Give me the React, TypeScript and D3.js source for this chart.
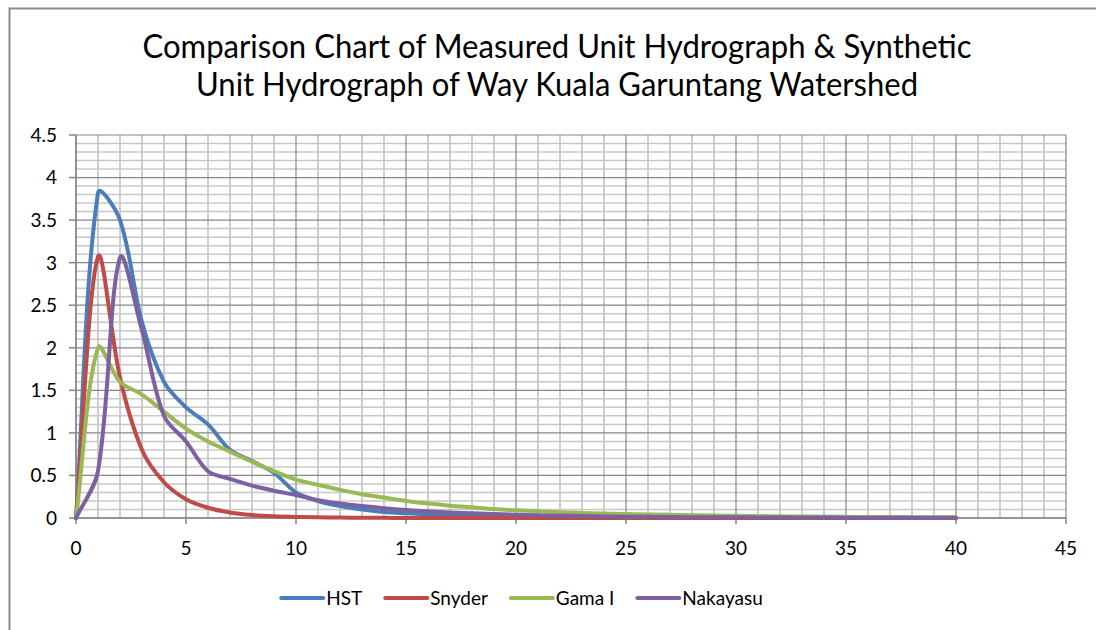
import React from 'react';
import * as d3 from 'd3';

// ---- Data ----
const hours = [0, 1, 2, 3, 4, 5, 6, 7, 8, 9, 10, 11, 12, 13, 14, 15, 16, 17, 18, 19, 20, 21, 22, 23, 24, 25, 26, 27, 28, 29, 30, 31, 32, 33, 34, 35, 36, 37, 38, 39, 40];

const hst = [0, 3.82, 3.5, 2.3, 1.6, 1.3, 1.1, 0.8, 0.67, 0.53, 0.3, 0.2, 0.14, 0.1, 0.07, 0.055, 0.045, 0.035, 0.028, 0.022, 0.018, 0.015, 0.012, 0.01, 0.008, 0.007, 0.006, 0.005, 0.004, 0.003, 0.003, 0.002, 0.002, 0.002, 0.001, 0.001, 0.001, 0.001, 0.001, 0.001, 0];
const snyder = [0, 3.07, 1.65, 0.8, 0.42, 0.22, 0.12, 0.065, 0.035, 0.02, 0.012, 0.008, 0.005, 0.003, 0.002, 0.001, 0.001, 0, 0, 0, 0, 0, 0, 0, 0, 0, 0, 0, 0, 0, 0, 0, 0, 0, 0, 0, 0, 0, 0, 0, 0];
const gama = [0, 2.0, 1.6, 1.45, 1.25, 1.05, 0.9, 0.78, 0.66, 0.55, 0.45, 0.39, 0.33, 0.28, 0.24, 0.2, 0.17, 0.145, 0.125, 0.105, 0.09, 0.078, 0.068, 0.06, 0.053, 0.047, 0.042, 0.037, 0.033, 0.029, 0.026, 0.023, 0.02, 0.018, 0.016, 0.014, 0.012, 0.011, 0.01, 0.009, 0.008];
const nakayasu = [0, 0.55, 3.06, 2.2, 1.2, 0.9, 0.55, 0.46, 0.38, 0.32, 0.27, 0.21, 0.17, 0.14, 0.115, 0.095, 0.08, 0.066, 0.055, 0.046, 0.038, 0.032, 0.027, 0.023, 0.019, 0.016, 0.014, 0.012, 0.01, 0.009, 0.008, 0.007, 0.006, 0.005, 0.005, 0.004, 0.004, 0.003, 0.003, 0.003, 0.002];

const seriesNames = ['HST', 'Snyder', 'Gama I', 'Nakayasu'];
const seriesValues = [hst, snyder, gama, nakayasu];
const seriesColors = ['#4A7EBB', '#BE4B48', '#98B954', '#7D60A0'];

const xTicks = [0, 5, 10, 15, 20, 25, 30, 35, 40, 45];
const yTicks = [0, 0.5, 1, 1.5, 2, 2.5, 3, 3.5, 4, 4.5];
const titleLines = [
  'Comparison Chart of Measured Unit Hydrograph & Synthetic',
  'Unit Hydrograph of Way Kuala Garuntang Watershed',
];

const W = 1096;
const H = 630;
const FONT = 'Lato, "Open Sans", sans-serif';

// Spreadsheet-style smoothing: Bezier segments whose control points follow the
// neighbouring chord, weighted by the adjacent segment lengths.
function ExcelSmooth(this: any, context: any) {
  this._context = context;
}
ExcelSmooth.prototype = {
  areaStart() {
    this._line = 0;
  },
  areaEnd() {
    this._line = NaN;
  },
  lineStart() {
    this._pts = [];
  },
  point(x: number, y: number) {
    this._pts.push([+x, +y]);
  },
  lineEnd() {
    const p = this._pts as [number, number][];
    const n = p.length;
    const ctx = this._context;
    if (!n) return;
    ctx.moveTo(p[0][0], p[0][1]);
    if (n === 1) return;
    const dist = (a: [number, number], b: [number, number]) => Math.hypot(b[0] - a[0], b[1] - a[1]);
    const tangent = (i: number) => {
      const prev = p[Math.max(0, i - 1)];
      const next = p[Math.min(n - 1, i + 1)];
      const dPrev = i > 0 ? dist(p[i - 1], p[i]) : 0;
      const dNext = i < n - 1 ? dist(p[i], p[i + 1]) : 0;
      const sum = dPrev + dNext || 1;
      return { dx: next[0] - prev[0], dy: next[1] - prev[1], wPrev: dPrev / sum, wNext: dNext / sum };
    };
    for (let i = 0; i < n - 1; i++) {
      const a = tangent(i);
      const b = tangent(i + 1);
      const k = 1 / 3;
      const c1x = p[i][0] + a.dx * k * a.wNext;
      const c1y = p[i][1] + a.dy * k * a.wNext;
      const c2x = p[i + 1][0] - b.dx * k * b.wPrev;
      const c2y = p[i + 1][1] - b.dy * k * b.wPrev;
      ctx.bezierCurveTo(c1x, c1y, c2x, c2y, p[i + 1][0], p[i + 1][1]);
    }
  },
};
const curveExcel = (context: any) => new (ExcelSmooth as any)(context);

function measure(text: string, size: number): number {
  const c = document.createElement('canvas').getContext('2d');
  if (!c) return text.length * size * 0.5;
  c.font = `${size}px Lato`;
  return c.measureText(text).width;
}

export default function App() {
  const x = d3.scaleLinear().domain([0, 45]).range([76, 1066]);
  const y = d3.scaleLinear().domain([0, 4.5]).range([518, 135]);

  const minorX = d3.range(0, 46, 1).filter((v) => v % 5 !== 0);
  const minorY = d3.range(0, 46, 1).filter((v) => v % 5 !== 0).map((v) => v / 10);

  const line = d3
    .line<number>()
    .x((_, i) => x(hours[i]))
    .y((d) => y(d))
    .curve(curveExcel as any);

  const legendFont = 19;
  const lineLen = 42;
  const gapText = 3;
  const itemGap = 23;
  let cursor = 0;
  const legendItems = seriesNames.map((name, i) => {
    const tw = measure(name, legendFont);
    const item = { name, color: seriesColors[i], x: cursor, tw };
    cursor += lineLen + gapText + tw + itemGap;
    return item;
  });
  const legendTotal = cursor - itemGap;
  const legendStart = 522 - legendTotal / 2;
  const legendY = 598;

  return (
    <div style={{ position: 'absolute', left: 0, top: 0 }}>
      <svg width={W} height={H} style={{ display: 'block', background: '#fff' }}>
        <rect x={0} y={0} width={W} height={H} fill="#fff" />
        {/* chart frame */}
        <rect x={9.5} y={8.5} width={W + 20} height={H + 20} fill="none" stroke="#8a8a8a" strokeWidth={2} />

        {/* title */}
        {titleLines.map((t, i) => (
          <text
            key={t}
            x={557}
            y={58 + i * 38}
            textAnchor="middle"
            fontFamily={FONT}
            fontSize={33}
            fill="#000"
            textLength={i === 0 ? 829 : 722}
            lengthAdjust="spacingAndGlyphs"
          >
            {t}
          </text>
        ))}

        {/* minor gridlines */}
        {minorX.map((v) => (
          <line key={'mx' + v} x1={x(v)} x2={x(v)} y1={y(0)} y2={y(4.5)} stroke="#bcbcbc" strokeWidth={1.5} />
        ))}
        {minorY.map((v) => (
          <line key={'my' + v} x1={x(0)} x2={x(45)} y1={y(v)} y2={y(v)} stroke="#c8c8c8" strokeWidth={1.5} />
        ))}
        {/* major gridlines */}
        {xTicks.map((v) => (
          <line key={'Mx' + v} x1={x(v)} x2={x(v)} y1={y(0)} y2={y(4.5)} stroke="#868686" strokeWidth={1.2} />
        ))}
        {yTicks.map((v) => (
          <line key={'My' + v} x1={x(0)} x2={x(45)} y1={y(v)} y2={y(v)} stroke="#868686" strokeWidth={1.2} />
        ))}

        {/* axes */}
        <line x1={x(0)} x2={x(0)} y1={y(0)} y2={y(4.5)} stroke="#868686" strokeWidth={1.5} />
        <line x1={x(0)} x2={x(45)} y1={y(0)} y2={y(0)} stroke="#868686" strokeWidth={1.5} />
        {yTicks.map((v) => (
          <g key={'yt' + v}>
            <line x1={x(0) - 7} x2={x(0)} y1={y(v)} y2={y(v)} stroke="#868686" strokeWidth={1.5} />
            <text x={57} y={y(v)} dy="0.36em" textAnchor="end" fontFamily={FONT} fontSize={19} fill="#000">
              {String(v)}
            </text>
          </g>
        ))}
        {xTicks.map((v) => (
          <g key={'xt' + v}>
            <line x1={x(v)} x2={x(v)} y1={y(0)} y2={y(0) + 6} stroke="#868686" strokeWidth={1.5} />
            <text x={x(v)} y={555} textAnchor="middle" fontFamily={FONT} fontSize={19} fill="#000">
              {String(v)}
            </text>
          </g>
        ))}

        {/* series */}
        {seriesValues.map((vals, i) => (
          <path
            key={seriesNames[i]}
            d={line(vals) || ''}
            fill="none"
            stroke={seriesColors[i]}
            strokeWidth={4}
            strokeLinejoin="round"
            strokeLinecap="round"
          />
        ))}

        {/* legend */}
        <g transform={`translate(${legendStart},${legendY})`}>
          {legendItems.map((it) => (
            <g key={it.name} transform={`translate(${it.x},0)`}>
              <line x1={0} x2={lineLen} y1={0} y2={0} stroke={it.color} strokeWidth={4} strokeLinecap="round" />
              <text x={lineLen + gapText} y={0} dy="0.36em" fontFamily={FONT} fontSize={legendFont} fill="#000">
                {it.name}
              </text>
            </g>
          ))}
        </g>
      </svg>
    </div>
  );
}
